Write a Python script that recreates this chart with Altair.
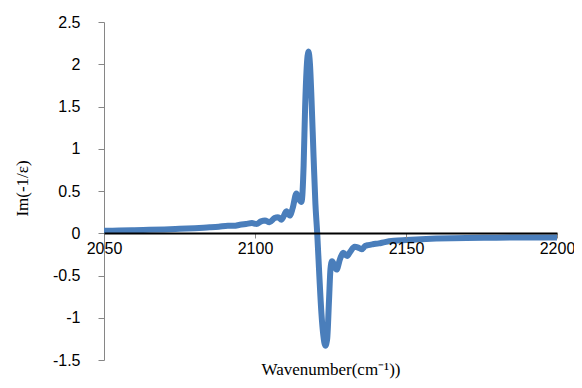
import altair as alt
import pandas as pd

wavenumber = [2050, 2055, 2060, 2065, 2070, 2075, 2080, 2085, 2088, 2091, 2093, 2095,
              2097, 2099, 2100.5, 2102, 2103.3, 2104.8, 2106.5, 2107.6, 2108.8, 2110.4,
              2111.5, 2112.5, 2113.7, 2114.6, 2115.4, 2116.1, 2116.6, 2117.1, 2117.7,
              2118.2, 2118.7, 2119.4, 2120.0, 2120.6, 2121.3, 2122.0, 2122.6, 2123.3,
              2123.9, 2124.5, 2125.0, 2125.5, 2126.3, 2127.0, 2128.2, 2129.2, 2130.5,
              2131.5, 2133.0, 2134.2, 2135.3, 2136.5, 2137.5, 2139, 2141, 2143, 2146,
              2150, 2155, 2160, 2165, 2170, 2180, 2190, 2200]
im_values = [0.03, 0.032, 0.035, 0.04, 0.045, 0.052, 0.06, 0.07, 0.078, 0.09, 0.088, 0.10,
             0.11, 0.12, 0.11, 0.14, 0.15, 0.13, 0.18, 0.19, 0.16, 0.26,
             0.21, 0.30, 0.47, 0.40, 0.37, 0.8, 1.5, 1.95, 2.15,
             2.0, 1.6, 0.9, 0.35, 0.0, -0.5, -0.95, -1.2, -1.33,
             -1.25, -0.8, -0.42, -0.33, -0.38, -0.43, -0.30, -0.23, -0.27,
             -0.22, -0.16, -0.17, -0.19, -0.15, -0.14, -0.13, -0.12, -0.105, -0.09,
             -0.08, -0.07, -0.063, -0.058, -0.055, -0.052, -0.05, -0.05]

x_ticks = [2050, 2100, 2150, 2200]
y_ticks = [-1.5, -1, -0.5, 0, 0.5, 1, 1.5, 2, 2.5]

df = pd.DataFrame({"w": wavenumber, "v": im_values})

W, H = 453, 338

chart = alt.Chart(df).mark_line(
    color="#4a7ebb", strokeWidth=6, interpolate="monotone"
).encode(
    x=alt.X("w:Q",
            scale=alt.Scale(domain=[2050, 2200], nice=False, zero=False),
            axis=alt.Axis(values=x_ticks, format="d", title="Wavenumber(cm⁻¹))", offset=-127,
                          domainColor="black", domainWidth=2, tickColor="#868686",
                          tickSize=5, labelPadding=2, labelFlush=False, labelOverlap=False,
                          labelFont="Liberation Sans", labelFontSize=16, labelColor="black",
                          titleFont="Liberation Serif", titleFontSize=17,
                          titleFontWeight="normal", titleColor="black",
                          titleX=W / 2, titleY=136, titleBaseline="middle",
                          titleAlign="center", grid=False, zindex=1)),
    y=alt.Y("v:Q",
            scale=alt.Scale(domain=[-1.5, 2.5], nice=False, zero=False),
            axis=alt.Axis(values=y_ticks, labelExpr="toString(datum.value)",
                          title="Im(-1/ε)", domainColor="#868686",
                          tickColor="#868686", tickSize=6, labelPadding=18,
                          labelFont="Liberation Sans", labelFontSize=16, labelColor="black",
                          titleFont="Liberation Serif", titleFontSize=17,
                          titleFontWeight="normal", titleColor="black",
                          titleX=-82, titleY=166, titleBaseline="middle",
                          titleAlign="center", grid=False)),
).properties(
    width=W, height=H,
    autosize=alt.AutoSizeParams(type="none"),
    padding={"left": 96, "top": 14, "right": 17, "bottom": 20},
).configure_view(stroke=None)

chart.save("out.html", embed_options={"renderer": "svg", "actions": False})
